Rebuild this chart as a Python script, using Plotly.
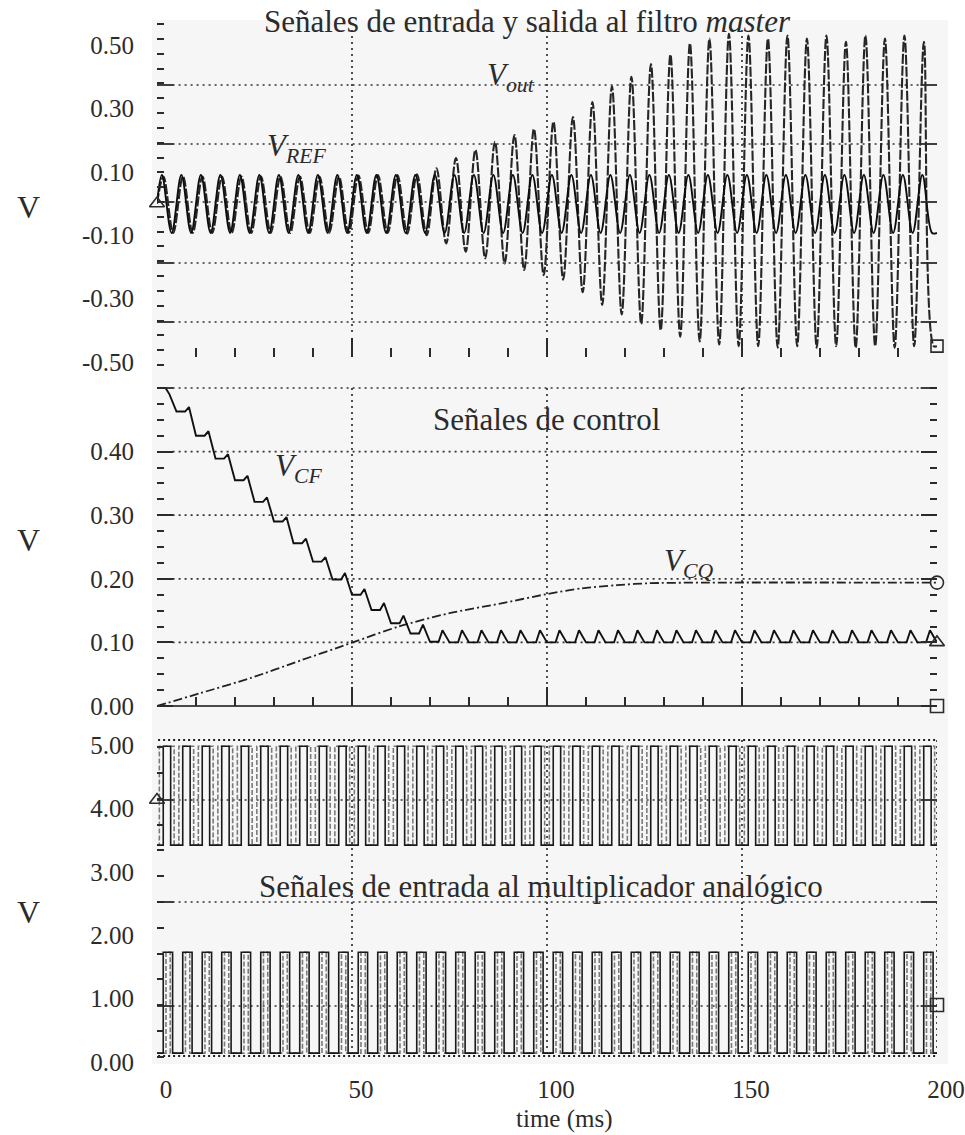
import plotly.graph_objects as go

W, H = 965, 1135
FONT = "Liberation Serif, Times New Roman, serif"
INK = "#2b2b2b"

# ---------------------------------------------------------------- data
period = 5.0                      # ms, one cycle of the 200 Hz reference
time_ticks = [0, 50, 100, 150, 200]
time_tick_text = ["0", "50", "100", "150", "200"]

# panel 1 : filter input (V_REF) and output (V_out); one peak / trough per cycle
vref_peak = 0.09
vref_trough = -0.093
vout_peak = [0.085, 0.085, 0.085, 0.085, 0.085, 0.085, 0.085, 0.085, 0.085, 0.085,
             0.088, 0.090, 0.090, 0.092, 0.111, 0.143, 0.169, 0.195, 0.216, 0.235,
             0.258, 0.273, 0.320, 0.370, 0.400, 0.440, 0.470, 0.505, 0.520, 0.535,
             0.530, 0.520, 0.530, 0.520, 0.530, 0.510, 0.530, 0.520, 0.530, 0.510]
vout_trough = [-0.093, -0.093, -0.093, -0.093, -0.093, -0.093, -0.093, -0.093, -0.093, -0.093,
               -0.093, -0.093, -0.095, -0.100, -0.126, -0.152, -0.173, -0.189, -0.210, -0.226,
               -0.240, -0.280, -0.320, -0.350, -0.380, -0.400, -0.420, -0.435, -0.445, -0.450,
               -0.450, -0.455, -0.450, -0.455, -0.450, -0.455, -0.450, -0.455, -0.450, -0.450]
y1_ticks = [0.5, 0.3, 0.1, -0.1, -0.3, -0.5]
y1_tick_text = ["0.50", "0.30", "0.10", "-0.10", "-0.30", "-0.50"]

# panel 2 : control voltages
vcf_level = [0.500, 0.463, 0.425, 0.389, 0.355, 0.321, 0.290, 0.256, 0.227, 0.199,
             0.175, 0.151, 0.130, 0.114, 0.101, 0.100, 0.100, 0.100, 0.100, 0.100,
             0.100, 0.100, 0.100, 0.100, 0.100, 0.100, 0.100, 0.100, 0.100, 0.100,
             0.100, 0.100, 0.100, 0.100, 0.100, 0.100, 0.100, 0.100, 0.100, 0.100, 0.100]
vcf_bump = [0.490, 0.470, 0.432, 0.396, 0.362, 0.328, 0.297, 0.263, 0.234, 0.209,
            0.184, 0.162, 0.142, 0.128, 0.119, 0.119, 0.119, 0.119, 0.119, 0.119,
            0.119, 0.119, 0.119, 0.119, 0.119, 0.119, 0.119, 0.119, 0.119, 0.119,
            0.119, 0.119, 0.119, 0.119, 0.119, 0.119, 0.119, 0.119, 0.119, 0.119]
vcq_t = [0, 11, 24, 37, 50, 62, 75, 88, 100, 109, 118, 126, 140, 200]
vcq_v = [0.0, 0.020, 0.044, 0.072, 0.0995, 0.125, 0.146, 0.161, 0.176, 0.185,
         0.190, 0.193, 0.194, 0.194]
y2_ticks = [0.0, 0.1, 0.2, 0.3, 0.4]
y2_tick_text = ["0.00", "0.10", "0.20", "0.30", "0.40"]

# panel 3 : square waves fed to the analog multiplier (levels in V, edges in ms)
upper_low, upper_high = 3.42, 4.98
lower_low, lower_high = 0.14, 1.73
upper_a_edges = (1.6, 3.5)
upper_b_edges = (0.6, 4.4)
lower_a_edges = (1.6, 4.0)
lower_b_edges = (2.3, 3.4)
y3_ticks = [5, 4, 3, 2, 1, 0]
y3_tick_text = ["5.00", "4.00", "3.00", "2.00", "1.00", "0.00"]

n_cycles = len(vout_peak)

# --------------------------------------------------------- page geometry
X0_PX, X1_PX = 157.0, 937.0            # t = 0 and t = 200 ms
# pixel calibration for each panel: value v sits at c - s*v, domain [top, bottom]
PANELS = {
    1: dict(c=203.5, s=317.0, top=24, bot=366),
    2: dict(c=706.0, s=636.0, top=380, bot=712),
    3: dict(c=1062.0, s=63.4, top=734, bot=1066),
}


def v_at(panel, py):
    p = PANELS[panel]
    return (p["c"] - py) / p["s"]


def paper_y(py):
    return 1 - py / H


def paper_x(px):
    return px / W


# ------------------------------------------------------------- builders
def oscillation(peaks, troughs, t_peak, t_trough):
    ts, vs = [0.0], [0.0]
    for k in range(len(peaks)):
        ts += [k * period + t_peak, k * period + t_trough]
        vs += [peaks[k], troughs[k]]
    ts.append(200.0)
    vs.append(troughs[-1])
    return ts, vs


def square(low, high, edges):
    rise, fall = edges
    ts, vs = [0.0], [low]
    for k in range(n_cycles):
        a, b = k * period + rise, k * period + fall
        ts += [a, a, b, b]
        vs += [low, high, high, low]
    ts.append(200.0)
    vs.append(low)
    return ts, vs


def staircase(levels, bumps):
    # each cycle: flat level, short rise to the bump, slope down to the next level
    ts, vs = [], []
    for k in range(len(bumps)):
        t0 = k * period
        ts += [t0, t0 + 2.2, t0 + 3.2]
        vs += [levels[k], levels[k], bumps[k]]
    ts.append(200.0)
    vs.append(levels[-1])
    return ts, vs


def open_marker(symbol, size=13):
    return dict(symbol=symbol, size=size, color=INK, line=dict(color=INK, width=1.6))


fig = go.Figure()

# panel 1 traces
t_ref, v_ref = oscillation([vref_peak] * n_cycles, [vref_trough] * n_cycles, 1.25, 3.75)
t_out, v_out = oscillation(vout_peak, vout_trough, 1.65, 4.15)
fig.add_trace(go.Scatter(x=t_out, y=v_out, xaxis="x", yaxis="y", mode="lines",
                         line=dict(color="#262626", width=2.1, dash="10px,2px",
                                   shape="spline", smoothing=1.0), name="V_out"))
fig.add_trace(go.Scatter(x=t_ref, y=v_ref, xaxis="x", yaxis="y", mode="lines",
                         line=dict(color="#0d0d0d", width=1.9, shape="spline", smoothing=1.0),
                         name="V_REF"))
fig.add_trace(go.Scatter(x=[0], y=[0.0], xaxis="x", yaxis="y", mode="markers",
                         marker=open_marker("triangle-up-open"),
                         cliponaxis=False, hoverinfo="skip"))
fig.add_trace(go.Scatter(x=[200], y=[vout_trough[-1]], xaxis="x", yaxis="y", mode="markers",
                         marker=open_marker("square-open", 12),
                         cliponaxis=False, hoverinfo="skip"))

# panel 2 traces
t_cf, v_cf = staircase(vcf_level, vcf_bump)
fig.add_trace(go.Scatter(x=[0, 200], y=[0, 0], xaxis="x2", yaxis="y2", mode="lines",
                         line=dict(color="#111111", width=1.7), hoverinfo="skip"))
fig.add_trace(go.Scatter(x=vcq_t, y=vcq_v, xaxis="x2", yaxis="y2", mode="lines",
                         line=dict(color="#222222", width=1.8, dash="9px,3px,2px,3px",
                                   shape="spline", smoothing=0.8), name="V_CQ"))
fig.add_trace(go.Scatter(x=t_cf, y=v_cf, xaxis="x2", yaxis="y2", mode="lines",
                         line=dict(color="#111111", width=1.9), name="V_CF"))
fig.add_trace(go.Scatter(x=[200, 200, 200], y=[vcq_v[-1], vcf_level[-1], 0.0],
                         xaxis="x2", yaxis="y2", mode="markers",
                         marker=dict(symbol=["circle-open", "triangle-up-open", "square-open"],
                                     size=13, color=INK, line=dict(color=INK, width=1.6)),
                         cliponaxis=False, hoverinfo="skip"))

# panel 3 traces
for edges, lo, hi, col, dash in [
    (upper_b_edges, upper_low, upper_high, "#7a7a7a", "5px,2px"),
    (upper_a_edges, upper_low, upper_high, "#1a1a1a", "solid"),
    (lower_b_edges, lower_low, lower_high, "#7a7a7a", "5px,2px"),
    (lower_a_edges, lower_low, lower_high, "#1a1a1a", "solid"),
]:
    ts, vs = square(lo, hi, edges)
    fig.add_trace(go.Scatter(x=ts, y=vs, xaxis="x3", yaxis="y3", mode="lines",
                             line=dict(color=col, width=1.6, dash=dash), hoverinfo="skip"))
fig.add_trace(go.Scatter(x=[0, 200], y=[v_at(3, 800), v_at(3, 1005)], xaxis="x3", yaxis="y3",
                         mode="markers",
                         marker=dict(symbol=["triangle-up-open", "square-open"], size=13,
                                     color=INK, line=dict(color=INK, width=1.6)),
                         cliponaxis=False, hoverinfo="skip"))

# ---------------------------------------------------------------- axes
x_domain = [paper_x(X0_PX), paper_x(X1_PX)]
tick_common = dict(tickcolor=INK, tickwidth=1.5)


def x_axis(panel, line_px, show_ticks, show_labels):
    ax = dict(domain=x_domain, range=[0, 200], anchor="free", position=paper_y(line_px),
              automargin=False, showgrid=False, zeroline=False, showline=False,
              tickmode="array", tickvals=time_ticks, ticktext=time_tick_text,
              showticklabels=show_labels,
              tickfont=dict(family=FONT, size=25, color=INK), **tick_common)
    if show_ticks:
        ax.update(ticks="inside", ticklen=19,
                  minor=dict(dtick=10, tick0=0, ticks="inside", ticklen=9, **tick_common))
    else:
        ax.update(ticks="", ticklabelshift=9, ticklabelstandoff=10)
    return ax


def y_axis(panel, anchor, tickvals, ticktext, major_len, minor_dtick, minor_tick0):
    p = PANELS[panel]
    return dict(domain=[paper_y(p["bot"]), paper_y(p["top"])],
                range=[v_at(panel, p["bot"]), v_at(panel, p["top"])],
                anchor=anchor, automargin=False,
                showgrid=False, zeroline=False, showline=False,
                tickmode="array", tickvals=tickvals, ticktext=ticktext,
                ticks="inside" if major_len else "", ticklen=major_len or 5,
                mirror="ticks", ticklabelstandoff=22,
                tickfont=dict(family=FONT, size=25, color=INK),
                minor=dict(dtick=minor_dtick, tick0=minor_tick0, ticks="inside",
                           ticklen=7, **tick_common),
                **tick_common)


grid1 = [v_at(1, py) for py in (85, 144, 202, 263, 322)]
grid2 = [0.5, 0.4, 0.3, 0.2, 0.1]
grid3 = [v_at(3, py) for py in (800, 902, 1006)]
frame3 = [v_at(3, 740), v_at(3, 1056)]

layout = dict(
    template="none",
    width=W, height=H, autosize=False,
    margin=dict(l=0, r=0, t=0, b=0, pad=0),
    paper_bgcolor="white", plot_bgcolor="rgba(0,0,0,0)",
    showlegend=False,
    font=dict(family=FONT, color=INK),
    xaxis=x_axis(1, 357, True, False),
    xaxis2=x_axis(2, 706, True, False),
    xaxis3=x_axis(3, 1062, False, True),
    yaxis=y_axis(1, "x", y1_ticks, y1_tick_text, 0, 0.04675, grid1[2]),
    yaxis2=y_axis(2, "x2", y2_ticks, y2_tick_text, 16, 0.025, 0.0),
    yaxis3=y_axis(3, "x3", y3_ticks, y3_tick_text, 0, 0.407, grid3[1]),
)

shapes = [dict(type="rect", xref="paper", yref="paper", layer="below",
               x0=paper_x(152), x1=paper_x(948), y0=paper_y(1064), y1=paper_y(20),
               fillcolor="#f6f6f6", line=dict(width=0))]
DOT = dict(color="#333333", width=1.7, dash="2px,4px")


def hline(xa, ya, y, x0=4, x1=196, line=DOT):
    shapes.append(dict(type="line", xref=xa, yref=ya, layer="below",
                       x0=x0, x1=x1, y0=y, y1=y, line=line))


def vline(xa, ya, x, y0, y1, line=DOT):
    shapes.append(dict(type="line", xref=xa, yref=ya, layer="below",
                       x0=x, x1=x, y0=y0, y1=y1, line=line))


def long_ticks(xa, ya, y, length=4.2):
    for a, b in ((0, length), (200 - length, 200)):
        shapes.append(dict(type="line", xref=xa, yref=ya, x0=a, x1=b, y0=y, y1=y,
                           line=dict(color=INK, width=1.8)))


for g in grid1:
    hline("x", "y", g)
    long_ticks("x", "y", g)
for t in (50, 100, 150):
    vline("x", "y", t, v_at(1, 30), v_at(1, 334))

for g in grid2:
    hline("x2", "y2", g)
long_ticks("x2", "y2", 0.5)
for t in (50, 100, 150):
    vline("x2", "y2", t, 0.5, 0.03)

for g in grid3:
    hline("x3", "y3", g)
    long_ticks("x3", "y3", g)
FRAME = dict(color="#1e1e1e", width=2.2, dash="2px,3px")
for g in frame3:
    hline("x3", "y3", g, -1, 200, FRAME)
for t in (50, 100, 150):
    vline("x3", "y3", t, frame3[0], frame3[1])
vline("x3", "y3", 200, frame3[0], frame3[1])

layout["shapes"] = shapes


def note(text, px, py, size, xanchor="center", yanchor="middle"):
    return dict(text=text, xref="paper", yref="paper", x=paper_x(px), y=paper_y(py),
                xanchor=xanchor, yanchor=yanchor, showarrow=False,
                font=dict(family=FONT, size=size, color=INK))


layout["annotations"] = [
    note("Señales de entrada y salida al filtro <i>master</i>", 527, 22, 31),
    note("Señales de control", 546, 419, 31),
    note("Señales de entrada al multiplicador analógico", 541, 886, 31),
    note("<i>V<sub>out</sub></i>", 485, 77, 31, "left"),
    note("<i>V<sub>REF</sub></i>", 265, 148, 31, "left"),
    note("<i>V<sub>CF</sub></i>", 273, 468, 31, "left"),
    note("<i>V<sub>CQ</sub></i>", 662, 563, 31, "left"),
    note("V", 28, 207, 32),
    note("V", 28, 540, 32),
    note("V", 28, 912, 32),
    note("time (ms)", 564, 1119, 25),
]

fig.update_layout(**layout)
fig.write_html("out.html")
